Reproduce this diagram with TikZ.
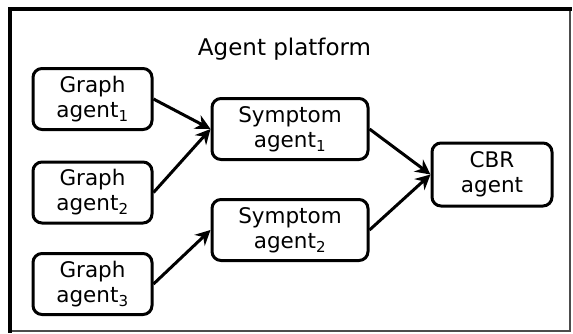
\documentclass[tikz,border=0pt]{standalone}
\usepackage{fontspec}
\setmainfont{DejaVu Sans}
\usetikzlibrary{arrows.meta, positioning}

\begin{document}
\begin{tikzpicture}[
        x=1pt, y=-1pt,
        every node/.style={font=\fontsize{21.5}{25}\selectfont},
        box/.style={rectangle, draw=black, line width=3pt, rounded corners=9pt, align=center, inner sep=0pt},
        graphbox/.style={box, minimum width=119pt, minimum height=61pt},
        symbox/.style={box, minimum width=156pt, minimum height=61pt},
        arrow/.style={line width=3pt, -{Stealth[length=15pt, width=15pt, inset=5pt]}}
    ]
    \useasboundingbox (0,0) rectangle (573,333);
    % Frame
    \draw[line width=1.6pt, black!70] (570,9) -- (570,331) -- (10,331);
    \draw[line width=3.6pt, line cap=rect] (10,331) -- (10,9) -- (570,9);

    % Title
    \node[anchor=base, font=\fontsize{23}{27}\selectfont] (title) at (284.5,55) {Agent platform};

    % Nodes
    \node[graphbox] (graph1) at (92.5,99) {Graph\\agent\textsubscript{1}};
    \node[graphbox] (graph2) at (92.5,192.5) {Graph\\agent\textsubscript{2}};
    \node[graphbox] (graph3) at (92.5,284) {Graph\\agent\textsubscript{3}};
    \node[symbox] (symptom1) at (290,129) {Symptom\\agent\textsubscript{1}};
    \node[symbox] (symptom2) at (290,230) {Symptom\\agent\textsubscript{2}};
    \node[box, minimum width=120pt, minimum height=63pt] (cbr) at (492,174.5) {CBR\\agent};

    % Arrows
    \draw[arrow] (graph1.east) -- (symptom1.west);
    \draw[arrow] (graph2.east) -- (symptom1.west);
    \draw[arrow] (graph3.east) -- (symptom2.west);
    \draw[arrow] (symptom1.east) -- (cbr.west);
    \draw[arrow] (symptom2.east) -- (cbr.west);
\end{tikzpicture}
\end{document}
